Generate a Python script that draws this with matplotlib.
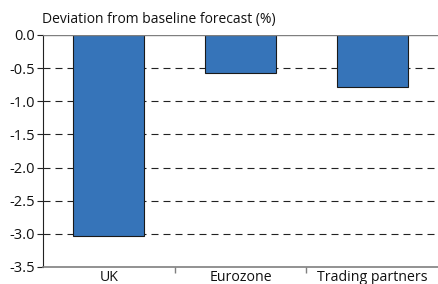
import matplotlib

matplotlib.use("Agg")
import matplotlib.pyplot as plt

# Dados
categorias = ["UK", "Eurozone", "Trading partners"]
desvios = [-3.03, -0.58, -0.79]
yticks = [0.0, -0.5, -1.0, -1.5, -2.0, -2.5, -3.0, -3.5]

BAR = "#3674b9"
EDGE = "#1a1a1a"
AXIS = "#7f7f7f"

plt.rcParams["font.family"] = ["Open Sans", "DejaVu Sans"]

fig = plt.figure(figsize=(4.38, 2.84), dpi=100)
ax = fig.add_axes([43 / 438, 17 / 284, 395 / 438, 232 / 284])

x = range(len(categorias))
ax.bar(x, desvios, width=0.54, color=BAR, edgecolor=EDGE, linewidth=0.8, zorder=3)

ax.set_xlim(-0.5, len(categorias) - 0.5)
ax.set_ylim(-3.5, 0)
ax.set_yticks(yticks)
ax.set_yticklabels([f"{v:.1f}" for v in yticks], fontsize=10.5, color="#111111")

# grade tracejada atras das barras
for v in yticks[1:-1]:
    ax.axhline(v, color="#222222", linewidth=0.8, dashes=(6.3, 4.5), zorder=1)
ax.axhline(0, color=AXIS, linewidth=1.0, zorder=4)

ax.set_xticks([i + 0.5 for i in range(len(categorias) - 1)])
ax.set_xticklabels([])
ax.set_xticks(list(x), minor=True)
ax.set_xticklabels(categorias, minor=True, fontsize=10.2, color="#111111")
ax.tick_params(axis="x", which="major", length=4, color=AXIS, width=1)
ax.tick_params(axis="x", which="minor", length=0, pad=2)
ax.tick_params(axis="y", length=4, color="#222222", width=0.8, pad=2)

for lado in ("top", "right"):
    ax.spines[lado].set_visible(False)
ax.spines["left"].set_color("#222222")
ax.spines["left"].set_linewidth(0.8)
ax.spines["bottom"].set_color(AXIS)
ax.spines["bottom"].set_linewidth(1.2)

fig.text(42 / 438, 1 - 20 / 284, "Deviation from baseline forecast (%)",
         fontsize=10, color="#111111", va="center", ha="left")

fig.savefig("out.png", dpi=100, facecolor="white")
